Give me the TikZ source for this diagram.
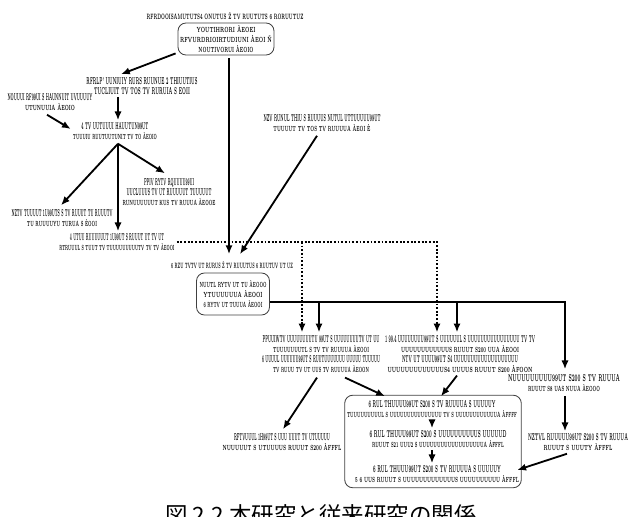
\documentclass[tikz,border=0pt]{standalone}
\usepackage{graphicx}
\usepackage{fontspec}
\newfontfamily\cjk{Noto Sans CJK JP}
\usetikzlibrary{calc}
\usetikzlibrary{arrows.meta}
\usetikzlibrary{fit}

\newlength\pxu
\setlength\pxu{0.025cm}
\newcommand\gl[2]{\resizebox{#1\pxu}{7\pxu}{\bfseries #2}}

\begin{document}
\begin{tikzpicture}[x=0.025cm, y=-0.025cm,
    txt/.style={align=center, inner sep=2\pxu, font=\fontsize{5}{7}\selectfont},
    rbox/.style={txt, draw=black!75, line width=0.6pt, rounded corners=8\pxu},
    arr/.style={line width=1.3pt, -{Latex[length=2.2mm,width=1.8mm]}},
    dotarr/.style={arr, dash pattern=on 1.3pt off 1.3pt}]

    \useasboundingbox (0,0) rectangle (640,517);

    % upper part
    \node[txt] (lab1) at (225,16) {\gl{157}{RFRDOOISAMUTUTS4 ONUTUS Ž TV RUUTUTS 6 RORUUTUZ}};
    \node[rbox, minimum width=94\pxu, minimum height=32\pxu] (box1) at (226,39)
        {\gl{59}{YOUTIHRORI ÀEOEI}\\ \gl{92}{RFVURDRIOIRTUDIUNI ÀEOI Ñ}\\ \gl{55}{NOUTIVORUI ÀEOIO}};

    \node[txt] (r1) at (142,86) {\gl{111}{RFRLP' UUNIUIY RURS RUUNUE 2 THIUUTIUS}\\ \gl{96}{TUCLIUIT TV TOS TV RURUIA S EOII}};
    \node[txt] (l1) at (50,102) {\gl{85}{NOUUUI RF99UI S HAUNNUIT UVUUUUY}\\ \gl{50}{UTUNUUIA ÀEOIO}};
    \node[txt] (r2) at (115,131) {\gl{67}{4 TV UUTUUUI HAUUTUN99UT}\\ \gl{84}{TUUUIU RUUTUUTUNIT TV TO ÀEOIO}};
    \node[txt] (r3) at (169,192) {\gl{50}{PPIV RYTV RQUUUU99UI}\\ \gl{85}{UUCLUUUS TV UT RUUUUUT TUUUUUT}\\ \gl{93}{RUNUUUUUUT KUS TV RUUUA ÀEOOE}};
    \node[txt] (l2) at (62,218) {\gl{101}{NZTV TUUUUT 1U99UTS S TV RUUUT TU RUUUTV}\\ \gl{70}{TU RUUUUYU TURUA S ÈOOI}};
    \node[txt] (m) at (117,242) {\gl{94}{4 UTUU RUUUUUUT 1U99UT S RUUUT UT TV UT}\\ \gl{115}{RTRUUUL S TUUT TV TUUUUUUUUUTV TV TV ÀEOOI}};
    \node[txt] (r4) at (322,123) {\gl{117}{NZV RUNUL THIU S RUUUUS NUTUL UTTUUUUU99UT}\\ \gl{97}{TUUUUT TV TOS TV RUUUUA ÀEOI È}};

    % middle part
    \node[txt] (lab2) at (232,265) {\gl{122}{6 RZU TVTV UT RURUS Ž TV RUUUTUS 6 RUUTUV UT UZ}};
    \node[rbox, minimum width=73\pxu, minimum height=42\pxu] (box2) at (233,294)
        {\gl{67}{NUUTL RYTV UT TU ÀEOOO}\\ \gl{59}{YTUUUUUUA ÀEOOI}\\ \gl{59}{6 RYTV UT TUUUA ÀEOOI}};

    \node[txt] (A) at (321,354) {\gl{117}{PPUUIWTV UUUUUUUUTU 99UT S UUUUUUUUTV UT UU}\\ \gl{96}{TUUUUUUUTL S TV TV RUUUUA ÀEOOI}\\
        \gl{118}{6 UUUUL UUUUUU99UT S RUUTUUUUUUU UUUUU TUUUUU}\\ \gl{96}{TV RUUU TV UT UUS TV RUUUUA ÀEOON}};
    \node[txt] (B) at (460,354) {\gl{150}{1 99.4 UUUUUUUU99UT S UUUUUUL S UUUUUUUUUUUUUUUU TV TV}\\ \gl{118}{UUUUUUUUUUUUS RUUUT S200 UUA ÀEOOI}\\
        \gl{116}{NTV UT UUUU99UT S4 UUUUUUUUUUUUUUUUUUU}\\ \gl{145}{UUUUUUUUUUUUUS4 UUUUS RUUUT S200 ÀFOON}};
    \node[txt] (C) at (564,383) {\gl{112}{NUUUUUUUUU99UT S200 S TV RUUUA}\\ \gl{72}{RUUUT S8 UAS NUUA ÀEOOO}};

    % lower part
    \node[txt] (G) at (282,442) {\gl{96}{RFTVUUUL 1H99UT S UUU UUUT TV UTUUUUU}\\ \gl{119}{NUUUUUT S UTUUUUS RUUUT S200 ÀFFFL}};
    \node[txt] (H) at (578,442) {\gl{100}{NZTVL RUUUUU99UT S200 S TV RUUUA}\\ \gl{69}{RUUUT S UUUTY ÀFFFL}};
    \node[txt] (D) at (432,409) {\gl{127}{6 RUL THUUUU99UT S200 S TV RUUUUA S UUUUUY}\\ \gl{170}{TUUUUUUUUUL S UUUUUUUUUUUUUUU TV S UUUUUUUUUUUUA ÀFFFF}};
    \node[txt] (E) at (438,439) {\gl{137}{6 RUL THUUU99UT S200 S UUUUUUUUUUS UUUUUD}\\ \gl{132}{RUUUT S21 UUU2 S UUUUUUUUUUUUUUUUUUA ÀFFFL}};
    \node[txt] (F) at (437,474) {\gl{128}{6 RUL THUUU99UT S200 S TV RUUUUA S UUUUUY}\\ \gl{164}{5 6 UUS RUUUT S UUUUUUUUUUUUUS UUUUUUUUUU ÀFFFL}};
    \node[draw=black!75, line width=0.6pt, rounded corners=8\pxu, inner xsep=0pt, inner ysep=3\pxu, fit=(D)(E)(F)] (box3) {};

    \node[font=\cjk\fontsize{16}{16}\selectfont] (cap) at (321,515) {図 2.2 本研究と従来研究の関係};

    % connectors
    \coordinate (r2b) at ($(r2.south)+(3,2)$);
    \coordinate (s2) at ($(box2.east)+(0,8)$);
    \coordinate (ch) at ($(C.south)+(1,2)$);

    \draw[arr] ($(box1.south west)+(-2,-2)$) -- ($(r1.north)+(-21,-1)$);
    \draw[arr] ($(box1.south)+(3,3)$) -- ($(lab2.north)+(-3,-5)$);
    \draw[arr] (r1.south -| r2b) -- (r2.north -| r2b);
    \draw[arr] ($(l1.south)+(-3,2)$) -- ($(r2.west)+(0,-2)$);
    \draw[arr] (r2b) -- ($(l2.north)+(-1,-2)$);
    \draw[arr] (r2b) -- (r2b |- m.north);
    \draw[arr] (r2b) -- ($(r3.north)+(-4,-3)$);
    \draw[arr] ($(r4.south)+(-5,2)$) -- ($(lab2.north)+(8,-5)$);

    \draw[dotarr] (m.east) -| ($(B.north)+(-23,-1)$);
    \draw[dotarr] (m.east -| A.north) ++(-19,0) -- ($(A.north)+(-19,-1)$);

    \draw[arr] (s2) -| ($(C.north)+(1,-3)$);
    \draw[arr] (s2 -| A.north) ++(-2,0) -- ($(A.north)+(-2,-1)$);
    \draw[arr] (s2 -| B.north) ++(-3,0) -- ($(B.north)+(-3,-1)$);

    \draw[arr] (ch) -- (ch |- H.north);
    \draw[arr] ($(H.south)+(-11,1)$) -- ($(F.east)+(-4,-4)$);
    \draw[arr] ($(A.south)+(-4,3)$) -- ($(G.north)+(1,-2)$);
    \draw[arr] ($(A.south)+(24,3)$) -- ($(D.north)+(-47,-2)$);
    \draw[arr] ($(B.south)+(-3,1)$) -- ($(D.north)+(9,-2)$);
    \draw[arr] (D.south) -- (D.south |- E.north);
    \draw[arr] (E.south -| D.south) -- (F.north -| D.south);

\end{tikzpicture}
\end{document}
